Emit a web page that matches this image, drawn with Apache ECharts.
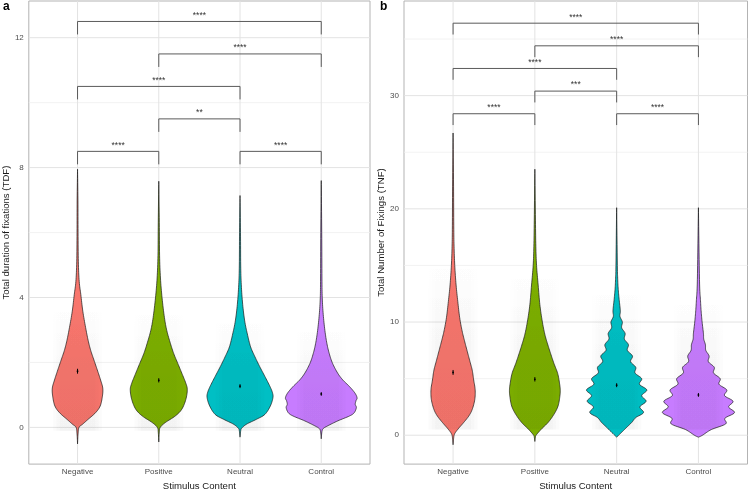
<!DOCTYPE html>
<html><head><meta charset="utf-8">
<script src="https://cdn.jsdelivr.net/npm/echarts@6/dist/echarts.min.js"></script>
<style>html,body{margin:0;padding:0;background:#fff}#c{width:750px;height:496px}</style>
</head><body><div id="c"></div>
<script>
const categories = ['Negative','Positive','Neutral','Control'];
const colors = ['#F8766D','#7CAE00','#00BFC4','#C77CFF'];

const yTicksA = [0,4,8,12];
const yMinorA = [2,6,10];
const yTicksB = [0,10,20,30];
const yMinorB = [5,15,25,35];

// violin profiles: [value, relative density (1 = widest violin)]
const violinA_Negative = [[-0.51,0],[-0.2,0.014],[0.0,0.04],[0.1,0.14],[0.25,0.29],[0.45,0.49],[0.66,0.62],[0.96,0.68],[1.21,0.69],[1.46,0.63],[1.77,0.54],[2.07,0.45],[2.37,0.36],[2.68,0.29],[3.08,0.22],[3.58,0.144],[4.09,0.09],[4.49,0.046],[5.1,0.022],[6.0,0.014],[7.0,0.011],[7.95,0]];
const violinA_Positive = [[-0.45,0],[-0.15,0.014],[0.0,0.04],[0.15,0.18],[0.35,0.45],[0.56,0.63],[0.86,0.74],[1.16,0.78],[1.36,0.74],[1.67,0.63],[1.97,0.52],[2.27,0.41],[2.58,0.32],[2.98,0.22],[3.38,0.155],[3.99,0.09],[4.6,0.046],[5.3,0.022],[6.3,0.014],[7.58,0]];
const violinA_Neutral = [[-0.3,0],[-0.1,0.02],[-0.02,0.05],[0.1,0.18],[0.25,0.45],[0.4,0.68],[0.66,0.83],[0.91,0.90],[1.06,0.89],[1.26,0.82],[1.57,0.68],[1.87,0.54],[2.17,0.41],[2.48,0.29],[2.88,0.2],[3.28,0.128],[3.79,0.073],[4.39,0.035],[5.0,0.019],[6.0,0.013],[7.14,0]];
const violinA_Control = [[-0.35,0],[-0.12,0.02],[-0.03,0.06],[0.05,0.18],[0.2,0.45],[0.35,0.77],[0.45,0.9],[0.61,0.96],[0.71,0.93],[0.82,0.95],[0.91,0.98],[1.06,0.92],[1.26,0.77],[1.46,0.59],[1.67,0.45],[1.97,0.31],[2.27,0.22],[2.58,0.155],[2.98,0.1],[3.48,0.054],[3.99,0.027],[4.6,0.019],[6.0,0.013],[7.6,0]];

const violinB_Negative = [[-0.84,0],[-0.3,0.014],[0.11,0.04],[0.55,0.136],[1.13,0.29],[1.71,0.43],[2.28,0.52],[3.15,0.59],[4.02,0.6],[4.88,0.56],[5.75,0.52],[6.62,0.45],[7.48,0.38],[8.35,0.31],[9.22,0.245],[10.38,0.18],[11.82,0.128],[13.27,0.082],[15.0,0.046],[16.7,0.027],[18.5,0.019],[22,0.013],[26.7,0]];
const violinB_Positive = [[-0.55,0],[-0.2,0.014],[0.03,0.04],[0.55,0.18],[1.13,0.36],[1.85,0.52],[2.58,0.63],[3.44,0.68],[4.02,0.69],[4.6,0.67],[5.46,0.62],[6.33,0.52],[7.2,0.43],[8.07,0.345],[8.93,0.27],[10.09,0.2],[11.54,0.136],[13.27,0.09],[15,0.046],[16.7,0.027],[19,0.016],[23.5,0]];
const violinB_Neutral = [[-0.17,0],[0.26,0.136],[0.69,0.27],[1.13,0.41],[1.56,0.52],[2,0.73],[2.5,0.63],[3,0.8],[3.5,0.68],[4,0.82],[4.5,0.62],[5,0.68],[5.5,0.5],[6,0.52],[6.5,0.38],[7,0.43],[7.5,0.29],[8,0.32],[8.5,0.21],[9,0.23],[9.5,0.136],[10,0.155],[10.5,0.09],[11,0.1],[12,0.068],[13,0.041],[14,0.027],[15,0.019],[20.1,0]];
const violinB_Control = [[-0.17,0],[0,0.11],[0.5,0.35],[1,0.74],[1.5,0.72],[2,0.98],[2.5,0.82],[3,0.94],[3.5,0.71],[4,0.77],[4.5,0.56],[5,0.59],[5.5,0.41],[6,0.43],[6.5,0.27],[7,0.29],[7.5,0.2],[8,0.19],[8.5,0.144],[9,0.136],[10,0.1],[11,0.073],[12,0.054],[13,0.035],[15,0.022],[20.1,0]];

const meansA = [1.73,1.45,1.27,1.03];
const seA = [0.06,0.05,0.045,0.04];
const meansB = [5.55,4.94,4.42,3.56];
const seB = [0.17,0.15,0.13,0.12];

// jitter cloud extents [low, high]
const cloudA = [[-0.1,3.9],[-0.1,3.8],[-0.1,3.5],[-0.1,3.2]];
const cloudB = [[0.5,16],[0.5,15],[0.5,13.5],[0.5,12.5]];

const bracketPairs = [[1,4],[2,4],[1,3],[2,3],[1,2],[3,4]];
const bracketHeightsA = [12.5,11.5,10.5,9.5,8.5,8.5];
const bracketLabelsA = ['****','****','****','**','****','****'];
const bracketTipA = 0.4;
const bracketHeightsB = [36.4,34.4,32.4,30.4,28.4,28.4];
const bracketLabelsB = ['****','****','****','***','****','****'];
const bracketTipB = 1.0;

const MAX_HALF = 0.45;
const FONT = '"Liberation Sans", Arial, Helvetica, sans-serif';

function smoothProfile(prof){
  const out = [];
  const n = prof.length;
  for (let i=0;i<n-1;i++){
    const p0 = prof[Math.max(0,i-1)], p1 = prof[i], p2 = prof[i+1], p3 = prof[Math.min(n-1,i+2)];
    const steps = 8;
    for (let s=0;s<steps;s++){
      const t = s/steps, t2=t*t, t3=t2*t;
      const f = (a,b,c,d)=>0.5*((2*b)+(-a+c)*t+(2*a-5*b+4*c-d)*t2+(-a+3*b-3*c+d)*t3);
      let v = f(p0[0],p1[0],p2[0],p3[0]);
      let d = f(p0[1],p1[1],p2[1],p3[1]);
      out.push([v, Math.max(0,d)]);
    }
  }
  out.push(prof[n-1]);
  return out;
}

function gridLineSeries(gi, yMinor, yMajor){
  const items = [];
  yMinor.forEach(v=>items.push({value:[0,v], kind:'hmin'}));
  yMajor.forEach(v=>items.push({value:[0,v], kind:'hmaj'}));
  categories.forEach((c,i)=>items.push({value:[i+1,0], kind:'vmaj'}));
  return {
    type:'custom', xAxisIndex:gi, yAxisIndex:gi, z:1, silent:true,
    data: items,
    renderItem(params, api){
      const cs = params.coordSys;
      const it = items[params.dataIndex];
      const p = api.coord([api.value(0), api.value(1)]);
      if (it.kind==='vmaj'){
        return {type:'line', shape:{x1:p[0],y1:cs.y,x2:p[0],y2:cs.y+cs.height}, style:{stroke:'#e3e3e3', lineWidth:1}};
      }
      return {type:'line', shape:{x1:cs.x,y1:p[1],x2:cs.x+cs.width,y2:p[1]},
        style:{stroke: it.kind==='hmaj' ? '#e3e3e3' : '#efefef', lineWidth: it.kind==='hmaj'?1:0.8}};
    }
  };
}

function violinSeries(gi, profiles){
  const sm = profiles.map(smoothProfile);
  return {
    type:'custom', xAxisIndex:gi, yAxisIndex:gi, z:3, silent:true,
    data: categories.map((c,i)=>[i+1]),
    renderItem(params, api){
      const i = params.dataIndex, prof = sm[i], cx = i+1;
      const pts = [];
      prof.forEach(([v,d])=>pts.push(api.coord([cx + d*MAX_HALF, v])));
      for (let k=prof.length-1;k>=0;k--){ const [v,d]=prof[k]; pts.push(api.coord([cx - d*MAX_HALF, v])); }
      return {type:'polygon', shape:{points:pts}, style:{fill:colors[i], stroke:'#1a1a1a', lineWidth:0.7}};
    }
  };
}

function cloudSeries(gi, clouds){
  return {
    type:'custom', xAxisIndex:gi, yAxisIndex:gi, z:4, silent:true,
    data: categories.map((c,i)=>[i+1]),
    renderItem(params, api){
      const i = params.dataIndex, cx=i+1;
      const kids = [];
      [0.3,0.26,0.22].forEach(w=>{
        const p1 = api.coord([cx-w, clouds[i][1]]);
        const p2 = api.coord([cx+w, clouds[i][0]]);
        kids.push({type:'rect', shape:{x:p1[0], y:p1[1], width:p2[0]-p1[0], height:p2[1]-p1[1]},
          style:{fill:new echarts.graphic.LinearGradient(0,0,0,1,[{offset:0,color:'rgba(0,0,0,0)'},{offset:0.5,color:'rgba(0,0,0,0.01)'},{offset:1,color:'rgba(0,0,0,0.016)'}])}});
      });
      return {type:'group', children:kids};
    }
  };
}

function meanSeries(gi, means, ses){
  return {
    type:'custom', xAxisIndex:gi, yAxisIndex:gi, z:5, silent:true,
    data: means.map((m,i)=>[i+1,m,ses[i]]),
    renderItem(params, api){
      const x = api.value(0), m = api.value(1), se = api.value(2);
      const a = api.coord([x, m-se]), b = api.coord([x, m+se]), c = api.coord([x,m]);
      return {type:'group', children:[
        {type:'line', shape:{x1:a[0],y1:a[1]+0.5,x2:b[0],y2:b[1]-0.5}, style:{stroke:'#000', lineWidth:1}},
        {type:'circle', shape:{cx:c[0], cy:c[1], r:0.9}, style:{fill:'#000'}}
      ]};
    }
  };
}

function bracketSeries(gi, heights, labels, tip){
  return {
    type:'custom', xAxisIndex:gi, yAxisIndex:gi, z:6, silent:true,
    data: bracketPairs.map((p,i)=>[p[0],p[1],heights[i]]),
    renderItem(params, api){
      const x1 = api.value(0), x2 = api.value(1), h = api.value(2);
      const a = api.coord([x1, h-tip]), b = api.coord([x1, h]), c = api.coord([x2, h]), d = api.coord([x2, h-tip]);
      const mid = api.coord([(x1+x2)/2, h]);
      return {type:'group', children:[
        {type:'polyline', shape:{points:[a,b,c,d]}, style:{stroke:'#5a5a5a', lineWidth:1, fill:null}},
        {type:'text', style:{text:labels[params.dataIndex], x:mid[0], y:mid[1]-1.5, align:'center', verticalAlign:'bottom', fontSize:8.5, fontFamily:FONT, fill:'#333'}}
      ]};
    }
  };
}

const axisText = {fontSize:8, color:'#4d4d4d', fontFamily:FONT};
const nameText = {fontSize:9.6, color:'#1a1a1a', fontFamily:FONT};

function xAxisCfg(gi){
  return {type:'value', gridIndex:gi, min:0.4, max:4.6,
    axisLine:{show:false}, splitLine:{show:false},
    axisTick:{show:false, customValues:[1,2,3,4]},
    axisLabel:Object.assign({customValues:[1,2,3,4], margin:4, formatter:v=>categories[Math.round(v)-1]||''}, axisText),
    name:'Stimulus Content', nameLocation:'middle', nameGap:12, nameTextStyle:nameText};
}
function yAxisCfg(gi, min, max, ticks, name, gap){
  return {type:'value', gridIndex:gi, min:min, max:max,
    axisLine:{show:false}, splitLine:{show:false},
    axisTick:{show:false, customValues:ticks},
    axisLabel:Object.assign({customValues:ticks, margin:5}, axisText),
    name:name, nameLocation:'middle', nameGap:gap, nameTextStyle:nameText};
}

const chart = echarts.init(document.getElementById('c'), null, {renderer:'canvas'});
chart.setOption({
  animation:false,
  backgroundColor:'#fff',
  grid:[
    {left:27, top:1, width:343, height:472, show:true, borderColor:'#b3b3b3', borderWidth:1, backgroundColor:'transparent'},
    {left:404, top:1, width:343.5, height:472, show:true, borderColor:'#b3b3b3', borderWidth:1, backgroundColor:'transparent'}
  ],
  xAxis:[xAxisCfg(0), xAxisCfg(1)],
  yAxis:[
    yAxisCfg(0, -1.13, 13.13, yTicksA, 'Total duration of fixations (TDF)', 14),
    yAxisCfg(1, -2.55, 38.36, yTicksB, 'Total Number of Fixings (TNF)', 15)
  ],
  graphic:[
    {type:'text', left:3, top:1, style:{text:'a', fontSize:12, fontWeight:'bold', fontFamily:FONT, fill:'#000'}},
    {type:'text', left:380, top:1, style:{text:'b', fontSize:12, fontWeight:'bold', fontFamily:FONT, fill:'#000'}}
  ],
  series:[
    gridLineSeries(0, yMinorA, yTicksA),
    violinSeries(0, [violinA_Negative, violinA_Positive, violinA_Neutral, violinA_Control]),
    cloudSeries(0, cloudA),
    meanSeries(0, meansA, seA),
    bracketSeries(0, bracketHeightsA, bracketLabelsA, bracketTipA),
    gridLineSeries(1, yMinorB, yTicksB),
    violinSeries(1, [violinB_Negative, violinB_Positive, violinB_Neutral, violinB_Control]),
    cloudSeries(1, cloudB),
    meanSeries(1, meansB, seB),
    bracketSeries(1, bracketHeightsB, bracketLabelsB, bracketTipB)
  ]
});
</script></body></html>
